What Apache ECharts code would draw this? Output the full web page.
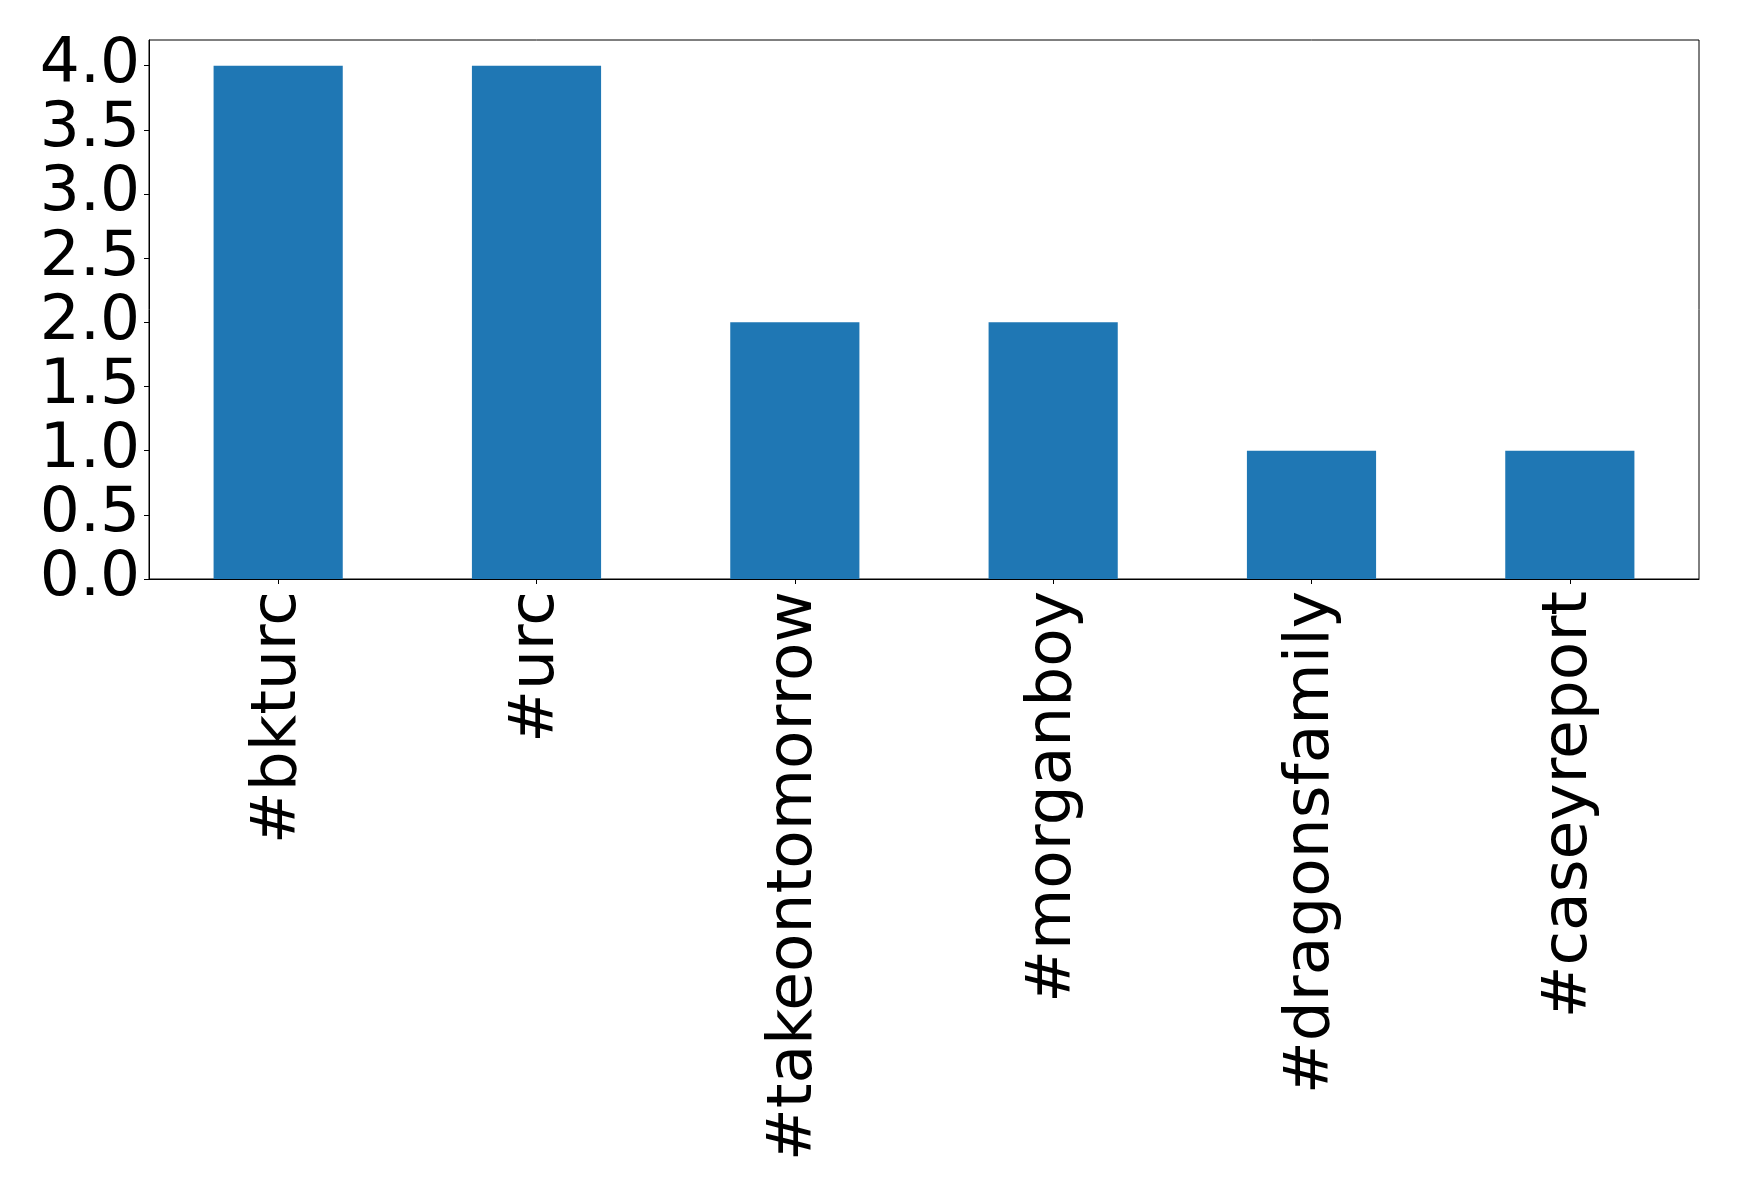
<!DOCTYPE html>
<html>
<head>
<meta charset="utf-8">
<script src="https://cdn.jsdelivr.net/npm/echarts@6/dist/echarts.min.js"></script>
<style>
html,body{margin:0;padding:0;background:#fff;}
#chart{width:1739px;height:1194px;}
</style>
</head>
<body>
<div id="chart"></div>
<script>
const categories = ['#bkturc', '#urc', '#takeontomorrow', '#morganboy', '#dragonsfamily', '#caseyreport'];
const counts = [4, 4, 2, 2, 1, 1];
const yTicks = [0, 0.5, 1, 1.5, 2, 2.5, 3, 3.5, 4];

const chart = echarts.init(document.getElementById('chart'), null, {renderer: 'canvas'});
const font = '"DejaVu Sans", sans-serif';
chart.setOption({
  animation: false,
  backgroundColor: '#fff',
  grid: {
    left: 149, right: 40, top: 40, bottom: 615,
    show: true, borderColor: '#000', borderWidth: 1, backgroundColor: 'transparent'
  },
  xAxis: {
    type: 'category',
    data: categories,
    axisLine: {show: true, lineStyle: {color: '#000', width: 1}},
    axisTick: {show: true, alignWithLabel: true, length: 5, lineStyle: {color: '#000'}},
    axisLabel: {
      rotate: 90, fontSize: 63, fontFamily: font, color: '#000', margin: 12, interval: 0
    }
  },
  yAxis: {
    type: 'value',
    min: 0, max: 4.2, interval: 0.5,
    splitLine: {show: false},
    axisLine: {show: true, lineStyle: {color: '#000', width: 1}},
    axisTick: {show: true, length: 5, lineStyle: {color: '#000'}},
    axisLabel: {
      fontSize: 63, fontFamily: font, color: '#000', margin: 9,
      showMaxLabel: false,
      formatter: v => yTicks.includes(v) ? v.toFixed(1) : ''
    }
  },
  series: [{
    type: 'bar',
    data: counts,
    barWidth: '50%',
    itemStyle: {color: '#1f77b4'}
  }]
});
</script>
</body>
</html>
